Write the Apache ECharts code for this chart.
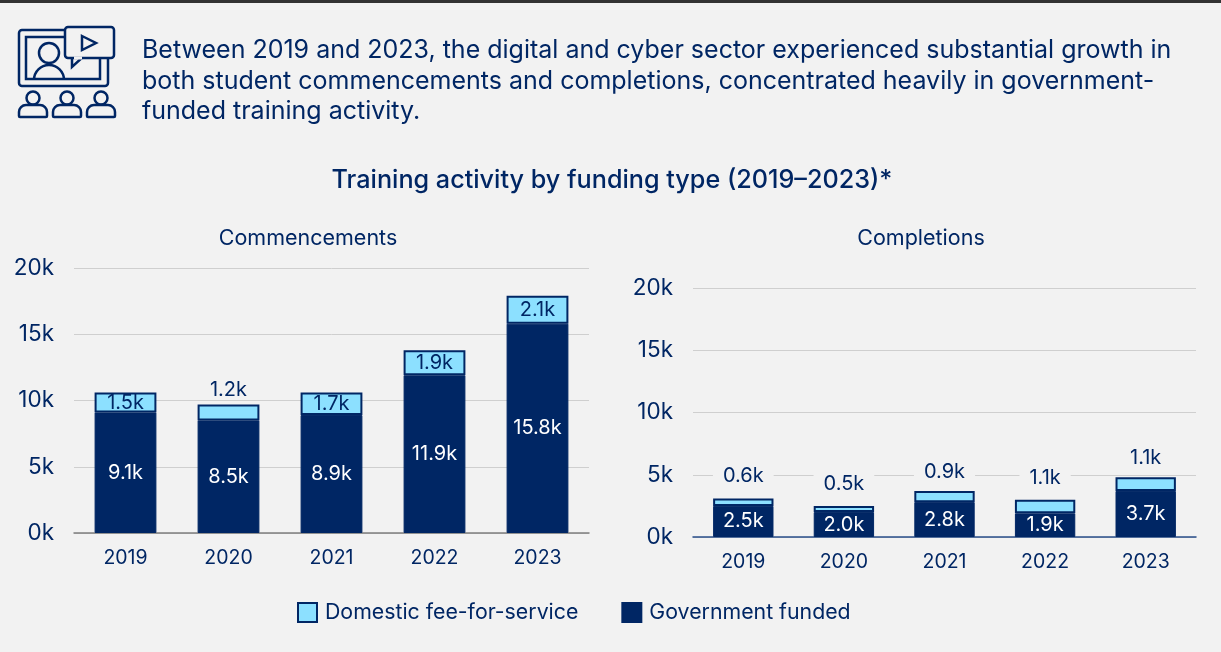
<!DOCTYPE html>
<html>
<head>
<meta charset="utf-8">
<style>
html, body { margin: 0; padding: 0; background: #f2f2f2; }
#main { width: 1221px; height: 652px; }
</style>
<script src="https://cdn.jsdelivr.net/npm/echarts@6/dist/echarts.min.js"></script>
</head>
<body>
<div id="main"></div>
<script>
var years = ['2019', '2020', '2021', '2022', '2023'];
var commGov = [9.1, 8.5, 8.9, 11.9, 15.8];
var commFee = [1.5, 1.2, 1.7, 1.9, 2.1];
var compGov = [2.5, 2.0, 2.8, 1.9, 3.7];
var compFee = [0.6, 0.5, 0.9, 1.1, 1.1];
var introLines = [
    'Between 2019 and 2023, the digital and cyber sector experienced substantial growth in',
    'both student commencements and completions, concentrated heavily in government-',
    'funded training activity.'
];

var navy = '#002664';
var light = '#8ce0ff';
var bg = '#f2f2f2';
var fontName = 'Inter';
var myChart = echarts.init(document.getElementById('main'));

function kLabel(p) {
    return p.value.toFixed(1) + 'k';
}

function xAxis(gridIndex, lineColor) {
    return {
        type: 'category',
        gridIndex: gridIndex,
        data: years,
        axisTick: { show: false },
        axisLine: { lineStyle: { color: lineColor, width: 1.5 } },
        axisLabel: { color: navy, fontFamily: fontName, fontSize: 19.5, margin: 15 }
    };
}

function yAxis(gridIndex) {
    return {
        type: 'value',
        gridIndex: gridIndex,
        min: 0,
        max: 20,
        interval: 5,
        axisLine: { show: false },
        axisTick: { show: false },
        splitLine: { lineStyle: { color: '#cfcfcf', width: 1 } },
        axisLabel: { formatter: '{value}k', color: navy, fontFamily: fontName, fontSize: 22.5, margin: 20, padding: [3, 0, 0, 0] }
    };
}

function govSeries(idx, values) {
    return {
        name: 'Government funded',
        type: 'bar',
        stack: 'c' + idx,
        xAxisIndex: idx,
        yAxisIndex: idx,
        barWidth: '60%',
        data: values,
        itemStyle: { color: navy, borderColor: navy, borderWidth: 1 },
        label: {
            show: true,
            position: 'inside',
            color: '#fff',
            fontFamily: fontName,
            fontSize: 20,
            formatter: kLabel
        }
    };
}

// fee labels go inside the light bar unless listed in above (index -> label override)
function aboveLabel(distance, patch) {
    return {
        position: 'top',
        distance: distance,
        color: navy,
        backgroundColor: patch ? bg : 'transparent',
        padding: patch ? [6, 10] : 0
    };
}

function feeSeries(idx, values, above) {
    return {
        name: 'Domestic fee-for-service',
        type: 'bar',
        stack: 'c' + idx,
        xAxisIndex: idx,
        yAxisIndex: idx,
        barWidth: '60%',
        data: values.map(function (v, i) {
            return above[i] ? { value: v, label: above[i] } : v;
        }),
        itemStyle: { color: light, borderColor: navy, borderWidth: 2 },
        label: {
            show: true,
            position: 'inside',
            color: navy,
            fontFamily: fontName,
            fontSize: 20,
            formatter: kLabel
        }
    };
}

function textTitle(text, x, y, size, weight, align) {
    return {
        text: text,
        left: x,
        top: y,
        textAlign: align,
        padding: 0,
        textStyle: { color: navy, fontFamily: fontName, fontSize: size, fontWeight: weight }
    };
}

var titles = [
    textTitle('Training activity by funding type (2019\u20132023)*', 612, 168, 25.2, 500, 'center'),
    textTitle('Commencements', 308, 228, 21.5, 400, 'center'),
    textTitle('Completions', 921, 228, 21.5, 400, 'center')
];
introLines.forEach(function (line, i) {
    titles.push(textTitle(line, 142, 38 + i * 30.5, 25, 400, 'left'));
});

var iconStroke = { stroke: navy, lineWidth: 2.5, fill: 'none' };
function person(cx) {
    return [
        { type: 'circle', shape: { cx: cx, cy: 98, r: 6.5 }, style: iconStroke },
        { type: 'rect', shape: { x: cx - 14, y: 105, width: 28, height: 12, r: [7, 7, 1, 1] }, style: iconStroke }
    ];
}

var icon = [
    { type: 'rect', shape: { x: 19, y: 30, width: 89, height: 56, r: 3 }, style: iconStroke },
    { type: 'rect', shape: { x: 26, y: 37, width: 74, height: 42 }, style: iconStroke },
    { type: 'circle', shape: { cx: 49, cy: 53, r: 10 }, style: iconStroke },
    { type: 'arc', shape: { cx: 49, cy: 80, r: 15, startAngle: Math.PI, endAngle: Math.PI * 2 }, style: iconStroke },
    { type: 'polygon', shape: { points: [[72, 56], [72, 67], [84, 56]] }, style: { stroke: navy, lineWidth: 2.5, fill: bg } },
    { type: 'rect', shape: { x: 65, y: 27, width: 49, height: 31, r: 3 }, style: { stroke: navy, lineWidth: 2.5, fill: bg } },
    { type: 'line', shape: { x1: 74, y1: 58, x2: 82, y2: 58 }, style: { stroke: bg, lineWidth: 3 } },
    { type: 'polygon', shape: { points: [[82, 36], [96, 43], [82, 50]] }, style: iconStroke }
].concat(person(33), person(67), person(101));

var option = {
    backgroundColor: bg,
    animation: false,
    title: titles,
    graphic: [
        { type: 'rect', shape: { x: 0, y: 0, width: 1221, height: 3 }, style: { fill: '#333' } }
    ].concat(icon),
    legend: {
        data: ['Domestic fee-for-service', 'Government funded'],
        left: 297,
        top: 602,
        padding: 0,
        itemWidth: 19,
        itemHeight: 19,
        itemGap: 43,
        icon: 'rect',
        textStyle: { color: navy, fontFamily: fontName, fontSize: 21.3, padding: [0, 0, 0, 3] }
    },
    grid: [
        { left: 74, right: 632, top: 268, bottom: 119 },
        { left: 693, right: 25, top: 288, bottom: 115 }
    ],
    xAxis: [xAxis(0, '#7f7f7f'), xAxis(1, '#2a4f8a')],
    yAxis: [yAxis(0), yAxis(1)],
    series: [
        govSeries(0, commGov),
        feeSeries(0, commFee, { 1: aboveLabel(4, false) }),
        govSeries(1, compGov),
        feeSeries(1, compFee, {
            0: aboveLabel(6, true),
            1: aboveLabel(6, true),
            2: aboveLabel(3, true),
            3: aboveLabel(6, true),
            4: aboveLabel(3, true)
        })
    ]
};

myChart.setOption(option);
</script>
</body>
</html>
